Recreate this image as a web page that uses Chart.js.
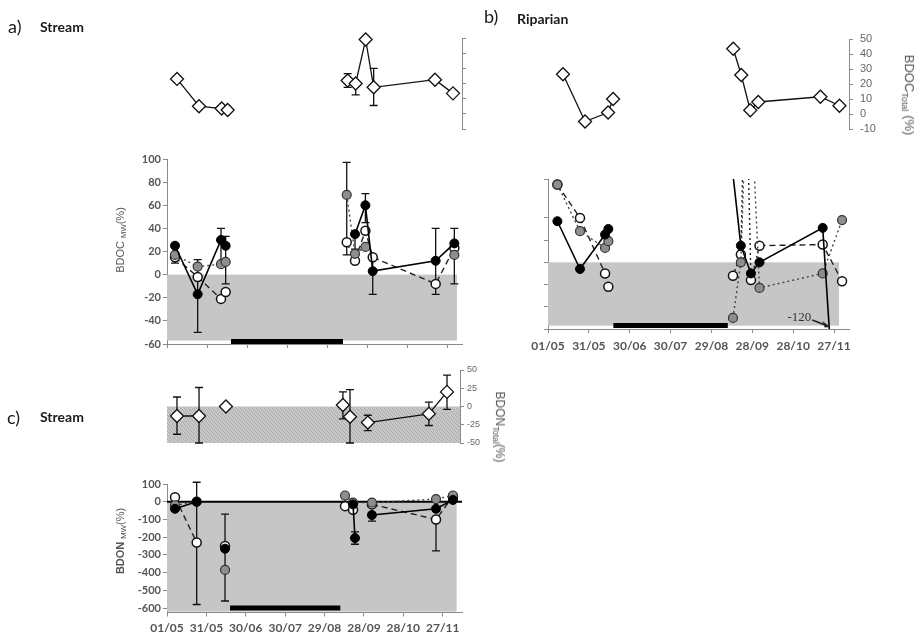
<!DOCTYPE html>
<html>
<head>
<meta charset="utf-8">
<title>BDOC / BDON</title>
<script src="https://cdn.jsdelivr.net/npm/chart.js@4.4.1/dist/chart.umd.min.js"></script>
<style>
  body { margin: 0; background: #fff; }
  #wrap { position: relative; width: 916px; height: 638px; overflow: hidden; font-family: Lato, 'Liberation Sans', sans-serif; }
  #wrap canvas { position: absolute; left: 0; top: 0; }
  .txt { position: absolute; white-space: nowrap; color: #1a1a1a; line-height: 1; }
  .panel { font-size: 18px; }
  .site { font-size: 14px; font-weight: bold; }
  .ytitle { position: absolute; white-space: nowrap; color: #555; line-height: 1;
            font-family: 'Liberation Sans', Arial, sans-serif;
            transform: translate(-50%, -50%) rotate(-90deg); }
  .ytitle.cw { transform: translate(-50%, -50%) rotate(90deg); }
  .ytitle sub { font-size: 70%; vertical-align: -0.3em; }
</style>
</head>
<body>
<div id="wrap">
  <canvas id="aTot" width="916" height="638"></canvas>
  <canvas id="aMw" width="916" height="638"></canvas>
  <canvas id="bTot" width="916" height="638"></canvas>
  <canvas id="bMw" width="916" height="638"></canvas>
  <canvas id="cTot" width="916" height="638"></canvas>
  <canvas id="cMw" width="916" height="638"></canvas>

  <div class="txt panel" style="left:8px;top:17px">a)</div>
  <div class="txt site" style="left:40px;top:20px">Stream</div>
  <div class="txt panel" style="left:484px;top:7px">b)</div>
  <div class="txt site" style="left:517px;top:12px">Riparian</div>
  <div class="txt panel" style="left:7px;top:408px">c)</div>
  <div class="txt site" style="left:40px;top:410px">Stream</div>

  <div class="ytitle" style="left:121px;top:240px;font-size:11px">BDOC <sub>MW</sub>(%)</div>
  <div class="ytitle cw" style="left:908px;top:95px;font-size:13px">BDOC<sub>Total</sub> (%)</div>
  <div class="ytitle cw" style="left:499px;top:427px;font-size:12px">BDON<sub>Total</sub>(%)</div>
  <div class="ytitle" style="left:121px;top:541px;font-size:11px"><b>BDON</b> <sub>MW</sub>(%)</div>
</div>
<script>
// date axis (day of year) and its labels
const tickDays = [121, 151, 181, 211, 241, 271, 301, 331];
const tickLabels = ['01/05', '31/05', '30/06', '30/07', '29/08', '28/09', '28/10', '27/11'];
const dryPeriod = [169, 253];

// a) Stream - BDOC total
const aTotDays = [128.5, 145, 162, 166.5, 210, 256.5, 262.5, 270, 276, 322, 335.5];
const aTotVals = [23, 5, 3.5, 2.5, null, 22, 20, 49, 17.5, 22.5, 13.5];
const aTotLo   = [21, null, 2, null, null, 17.5, 12.5, null, 5.5, null, null];
const aTotHi   = [25, null, 5, null, null, 26.5, 20, null, 30, null, null];

// a) Stream - BDOC per MW fraction
const aDays    = [127, 144, 161.5, 165, 210, 255.8, 262, 269.8, 275.3, 322.5, 336.5];
const aBlack   = [25, -17, 30, 25, null, null, 35, 60, 3, 12, 27];
const aBlackLo = [10, -50, 8, -8, null, null, 22, 45, -17, -17, -8];
const aBlackHi = [27, 13, 40, 33, null, null, 35, 70, 15, 40, 40];
const aGray    = [17, 7, 9, 11, null, 69, 18, 24, null, null, 17];
const aGrayLo  = [null, null, null, null, null, 17, null, null, null, null, null];
const aGrayHi  = [null, null, null, null, null, 97, null, null, null, null, null];
const aWhite   = [15, -2, -21, -15, null, 28, 12, 38, 15, -8, 23];

// b) Riparian - BDOC total
const bTotDays = [132, 148.2, 165.1, 168.8, 210, 257, 262.9, 269.5, 275.4, 321, 335];
const bTotVals = [26.5, -5, 1, 10, null, 43.5, 26, 2.5, 8, 11.5, 5.5];

// b) Riparian - BDOC per MW fraction
const bBlackDays = [127.9, 144.5, 162.9, 165.3, 210, 254, 262.6, 270, 276.3, 322.7, 330.7];
const bBlackVals = [37, -6, 25, 30, null, 110, 15, -10, 0, 31, -120];
const bGrayDays  = [127.9, 144.5, 162.9, 165.3, 210, 256.8, 262.6, 268, 276.3, 322.7, 336.9];
const bGrayVals  = [70, 28, 13, 19, null, -50, 0, 200, -23, -10, 38];
const bWhiteDays = [127.9, 144.5, 162.9, 165.3, 210, 256.8, 262.6, 266, 270, 276.3, 322.7, 336.9];
const bWhiteVals = [70, 40, -10, -22, null, -12, 7, 200, -16, 15, 16, -17];

// c) Stream - BDON total
const cTotDays = [128.6, 145.4, 155, 165.9, 210, 255, 257, 260.4, 267, 274, 320.5, 334.3];
const cTotVals = [-13, -13, null, 0, null, 2, null, -14, null, -22, -10, 20];
const cTotLo   = [-38, -50, null, null, null, -17, null, -50, null, -33, -26, -4];
const cTotHi   = [13, 26, null, null, null, 20, null, 23, null, -12, 6, 43];

// c) Stream - BDON per MW fraction
const cBlackDays = [127.1, 143.6, 150, 165.2, 210, 262.7, 264.2, 270, 277.1, 325.9, 338.8];
const cBlackVals = [-40, 0, null, -265, null, -15, -205, null, -75, -40, 10];
const cBlackLo   = [-55, -580, null, null, null, null, -240, null, -110, null, null];
const cBlackHi   = [-25, 110, null, null, null, null, -170, null, -60, null, null];
const cGrayDays  = [127.1, 143.6, 150, 165.2, 210, 256.6, 262.7, 277.1, 325.9, 338.8];
const cGrayVals  = [-20, 0, null, -385, null, 35, -5, -5, 15, 35];
const cGrayLo    = [null, null, null, -560, null, -10, null, null, null, 10];
const cGrayHi    = [null, null, null, -70, null, 45, null, null, null, 50];
const cWhiteDays = [127.1, 143.6, 150, 165.2, 210, 256.6, 262.7, 270, 277.1, 325.9, 338.8];
const cWhiteVals = [25, -230, null, -250, null, -25, -45, null, -15, -100, 30];
const cWhiteLo   = [null, null, null, null, null, null, null, null, null, -277, null];
const cWhiteHi   = [null, null, null, null, null, null, null, null, null, -100, null];

const W = 916, H = 638, AXW = 40, AXH = 30;
const axisGray = '#8a8a8a';
const tickFont = { family: 'Lato', weight: 'bold', size: 11 };

const black = { borderColor: '#000', borderWidth: 1.6, pointBackgroundColor: '#000', pointBorderColor: '#000', pointRadius: 4.5, pointBorderWidth: 1 };
const gray = { borderColor: '#444', borderWidth: 1.4, borderDash: [2, 3], pointBackgroundColor: '#8e8e8e', pointBorderColor: '#333', pointRadius: 4.5, pointBorderWidth: 1.2 };
const white = { borderColor: '#222', borderWidth: 1.4, borderDash: [6, 4], pointBackgroundColor: '#fff', pointBorderColor: '#111', pointRadius: 4.5, pointBorderWidth: 1.5 };
const diamond = { borderColor: '#111', borderWidth: 1.3, pointStyle: 'rectRot', pointRadius: 6.5, pointBackgroundColor: '#fff', pointBorderColor: '#111', pointBorderWidth: 1.3, clip: 8 };

function series(style, days, vals, extra) {
  return Object.assign({
    data: days.map((d, i) => ({ x: d, y: vals[i] })),
    fill: false, tension: 0, spanGaps: false
  }, style, extra || {});
}

// grey stipple used behind the BDON total panel
function stipple(ctx) {
  const c = document.createElement('canvas');
  c.width = c.height = 4;
  const g = c.getContext('2d');
  g.fillStyle = '#c2c2c2'; g.fillRect(0, 0, 4, 4);
  g.fillStyle = '#adadad'; [[0, 0], [2, 1], [1, 2], [3, 3]].forEach(([i, j]) => g.fillRect(i, j, 1, 1));
  g.fillStyle = '#d2d2d2'; [[2, 3], [0, 2], [3, 0]].forEach(([i, j]) => g.fillRect(i, j, 1, 1));
  return ctx.createPattern(c, 'repeat');
}

// shaded band, zero line, dry-period bar, error bars and off-scale note
const decor = {
  id: 'decor',
  beforeDatasetsDraw(chart, args, o) {
    const { ctx, chartArea: a, scales: { x, y } } = chart;
    ctx.save();
    if (o.shade) {
      const s = o.shade;
      const x0 = x.getPixelForValue(s.x[0]), x1 = x.getPixelForValue(s.x[1]);
      const y0 = y.getPixelForValue(s.y[0]), y1 = y.getPixelForValue(s.y[1]);
      ctx.fillStyle = s.stipple ? stipple(ctx) : s.color;
      ctx.fillRect(x0, y0, x1 - x0, y1 - y0);
    }
    if (o.zeroLine) {
      ctx.strokeStyle = '#000'; ctx.lineWidth = 2;
      ctx.beginPath();
      ctx.moveTo(a.left, y.getPixelForValue(0)); ctx.lineTo(a.right, y.getPixelForValue(0));
      ctx.stroke();
    }
    if (o.bar) {
      const x0 = x.getPixelForValue(dryPeriod[0]), x1 = x.getPixelForValue(dryPeriod[1]);
      ctx.fillStyle = '#000';
      ctx.fillRect(x0, a.bottom - o.bar.off - o.bar.h, x1 - x0, o.bar.h);
    }
    chart.data.datasets.forEach(ds => {
      if (!ds.errLo) return;
      ds.errLo.forEach((lo, j) => {
        const hi = ds.errHi[j];
        if (lo == null && hi == null) return;
        const pt = ds.data[j];
        const px = x.getPixelForValue(pt.x);
        const top = y.getPixelForValue(hi != null ? hi : pt.y);
        const bot = y.getPixelForValue(lo != null ? lo : pt.y);
        ctx.strokeStyle = '#111'; ctx.lineWidth = 1.3; ctx.setLineDash([]);
        ctx.beginPath();
        ctx.moveTo(px, top); ctx.lineTo(px, bot);
        if (hi != null) { ctx.moveTo(px - 4, top); ctx.lineTo(px + 4, top); }
        if (lo != null) { ctx.moveTo(px - 4, bot); ctx.lineTo(px + 4, bot); }
        ctx.stroke();
      });
    });
    ctx.restore();
  },
  afterDatasetsDraw(chart, args, o) {
    if (!o.offScale) return;
    const { ctx, chartArea: a, scales: { x, y } } = chart;
    const pts = chart.data.datasets[o.offScale.dataset].data;
    const k = pts.findIndex(p => p.y != null && p.y < y.min);
    if (k < 1) return;
    const p0 = pts[k - 1], p1 = pts[k];
    const t = (p0.y - y.min) / (p0.y - p1.y);
    const tx = x.getPixelForValue(p0.x + t * (p1.x - p0.x)) + 1;
    const ty = a.bottom - 2;
    ctx.save();
    ctx.strokeStyle = '#222'; ctx.fillStyle = '#222'; ctx.lineWidth = 1.6;
    ctx.beginPath(); ctx.moveTo(tx - 18, ty - 7); ctx.lineTo(tx - 4, ty - 1.5); ctx.stroke();
    ctx.beginPath();
    ctx.moveTo(tx, ty); ctx.lineTo(tx - 8, ty - 6); ctx.lineTo(tx - 5.5, ty + 0.5); ctx.closePath();
    ctx.fill();
    ctx.fillStyle = '#333';
    ctx.font = '13px "Liberation Serif", serif';
    ctx.textAlign = 'right'; ctx.textBaseline = 'middle';
    ctx.fillText(String(p1.y), tx - 19, ty - 9);
    ctx.restore();
  }
};

function xAxis(range, show, labels, pad) {
  return {
    type: 'linear', min: range[0], max: range[1], display: show,
    afterBuildTicks: s => { s.ticks = tickDays.map(v => ({ value: v })); },
    afterFit: s => { s.height = AXH; },
    grid: { drawOnChartArea: false, tickLength: 4, color: axisGray },
    border: { color: axisGray },
    ticks: {
      display: labels, autoSkip: false, maxRotation: 0, padding: pad,
      color: '#555', font: { family: 'Lato', weight: 'bold', size: 12 },
      callback: v => tickLabels[tickDays.indexOf(v)]
    }
  };
}

function yAxis(o) {
  const ax = {
    type: 'linear', position: o.pos, min: o.min, max: o.max,
    afterFit: s => { s.width = AXW; },
    grid: { drawOnChartArea: false, tickLength: 4, color: axisGray },
    border: { color: axisGray },
    ticks: { display: !!o.font, autoSkip: false, stepSize: o.step, padding: o.pad || 2, color: o.color || '#555', font: o.font }
  };
  if (o.ticks) ax.afterBuildTicks = s => { s.ticks = o.ticks.map(v => ({ value: v })); };
  return ax;
}

function panel(id, p) {
  const left = p.y.pos === 'left', right = p.y.pos === 'right';
  return new Chart(document.getElementById(id), {
    type: 'line',
    data: { datasets: p.datasets },
    options: {
      responsive: false, animation: false, devicePixelRatio: 1, events: [],
      layout: {
        autoPadding: false,
        padding: {
          left: p.box[0] - (left ? AXW : 0),
          top: p.box[1],
          right: W - p.box[2] - (right ? AXW : 0),
          bottom: H - p.box[3] - (p.x.display ? AXH : 0)
        }
      },
      scales: { x: p.x, y: yAxis(p.y) },
      plugins: { legend: { display: false }, tooltip: { enabled: false }, decor: p.decor || {} }
    },
    plugins: [decor]
  });
}

// a) Stream
panel('aTot', {
  box: [167, 38, 462, 159],
  x: xAxis([121, 342.25], false, false, 0),
  y: { pos: 'right', min: -10, max: 50, step: 10 },
  datasets: [series(diamond, aTotDays, aTotVals, { errLo: aTotLo, errHi: aTotHi })]
});
panel('aMw', {
  box: [167, 159, 462, 344],
  x: xAxis([121, 342.25], true, false, 0),
  y: { pos: 'left', min: -60, max: 100, step: 20, font: tickFont },
  decor: { shade: { x: [121, 338.5], y: [0, -57], color: '#c6c6c6' }, bar: { off: 0, h: 5 } },
  datasets: [
    series(black, aDays, aBlack, { errLo: aBlackLo, errHi: aBlackHi }),
    series(gray, aDays, aGray, { errLo: aGrayLo, errHi: aGrayHi }),
    series(white, aDays, aWhite)
  ]
});

// b) Riparian
panel('bTot', {
  box: [548, 39, 849, 159],
  x: xAxis([121, 342], false, false, 0),
  y: { pos: 'right', min: -10, max: 50, step: 10, pad: 7, color: '#666',
       font: { family: 'Liberation Sans', size: 11 } },
  datasets: [series(diamond, bTotDays, bTotVals)]
});
panel('bMw', {
  box: [548, 179, 849, 329],
  x: xAxis([121, 342], true, true, 6),
  y: { pos: 'left', min: -60, max: 75, ticks: [-60, -40, -20, 0, 20, 40, 75] },
  decor: { shade: { x: [121, 334.7], y: [0, -57], color: '#c6c6c6' }, bar: { off: 1, h: 5 }, offScale: { dataset: 0 } },
  datasets: [
    series(black, bBlackDays, bBlackVals),
    series(gray, bGrayDays, bGrayVals),
    series(white, bWhiteDays, bWhiteVals, {
      segment: { borderDash: c => (c.p0.parsed.x > 200 && c.p0.parsed.x < 272 ? [2, 3] : [6, 4]) }
    })
  ]
});

// c) Stream, nitrogen
panel('cTot', {
  box: [167, 370, 460, 473],
  x: xAxis([121, 344.2], false, false, 0),
  y: { pos: 'right', min: -50, max: 50, step: 25, pad: 3, color: '#666',
       font: { family: 'Liberation Sans', size: 9 } },
  decor: { shade: { x: [121, 344.2], y: [0, -50], stipple: true } },
  datasets: [series(diamond, cTotDays, cTotVals, { errLo: cTotLo, errHi: cTotHi })]
});
panel('cMw', {
  box: [167, 484, 462, 612.5],
  x: xAxis([121, 345.7], true, true, 4),
  y: { pos: 'left', min: -625, max: 100, ticks: [-600, -500, -400, -300, -200, -100, 0, 100], font: tickFont },
  decor: { shade: { x: [121, 341.6], y: [0, -620], color: '#c6c6c6' }, zeroLine: true, bar: { off: 2, h: 5 } },
  datasets: [
    series(black, cBlackDays, cBlackVals, { errLo: cBlackLo, errHi: cBlackHi }),
    series(gray, cGrayDays, cGrayVals, { errLo: cGrayLo, errHi: cGrayHi }),
    series(white, cWhiteDays, cWhiteVals, { errLo: cWhiteLo, errHi: cWhiteHi })
  ]
});
</script>
</body>
</html>
